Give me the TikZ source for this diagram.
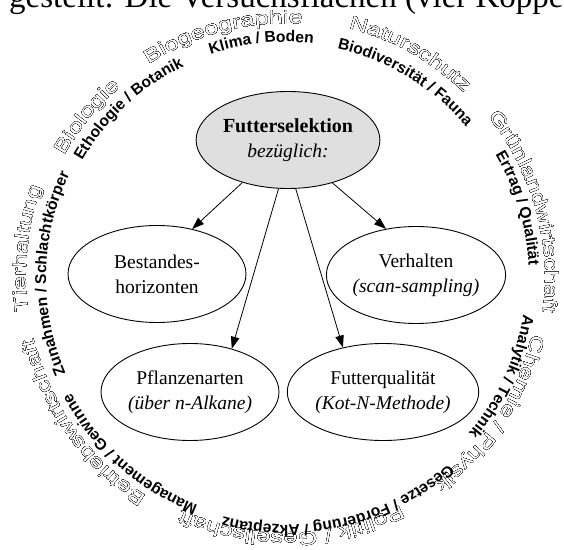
\documentclass[tikz,border=0pt]{standalone}
\usepackage{fontspec}
\setmainfont{Liberation Serif}
\newfontfamily\outerfam[FakeStretch=1.32]{Liberation Sans}
\newfontfamily\innerfam{Liberation Sans}
\usetikzlibrary{shapes.geometric,arrows.meta,decorations.text,calc}
\newcommand\outerfnt{\outerfam\fontsize{19}{23}\selectfont}
\newcommand\innerfnt{\innerfam\bfseries\fontsize{15.6}{18}\selectfont}
% text on a clockwise arc around (C): #1 font, #2 radius, #3 middle angle, #4 text, #5 colour
\newcommand\ringtext[5]{%
  \pgfmathsetmacro\sa{#3+50}\pgfmathsetmacro\ea{#3-50}%
  \path[decorate,decoration={text along path,text={|#1|#4},text align=center,text color=#5}]
    ($(C)+(\sa:#2pt)$) arc[start angle=\sa,end angle=\ea,radius=#2pt];}
% outlined (hollow) text on the outer ring
\newcommand\outlinetext[3]{%
  \foreach \ang in {0,22.5,...,337.5}{%
    \begin{scope}[shift={(\ang:0.72)}]\ringtext{\outerfnt}{#1}{#2}{#3}{black}\end{scope}}%
  \ringtext{\outerfnt}{#1}{#2}{#3}{white}}
\begin{document}
\begin{tikzpicture}[x=1pt,y=1pt,
  ell/.style={ellipse,draw,line width=0.9pt,minimum width=178pt,minimum height=97pt,
    inner sep=0pt,align=center,font=\fontsize{19.5}{25}\selectfont},
  arr/.style={line width=0.8pt,-{Triangle[length=12pt,width=8.5pt]}}]
\useasboundingbox (0,0) rectangle (564,549);
\clip (0,0) rectangle (564,549);
\coordinate (C) at (286,271);
\node[anchor=base west,inner sep=0pt,font=\fontsize{33}{40}\selectfont] (hdr) at (9,541)
  {gestellt: Die Versuchsflächen (vier Koppe};
% ellipses
\node[ell,fill=gray!25] (F) at (288,409)
  {{\fontsize{20}{25}\selectfont\bfseries Futterselektion}\\\textit{bezüglich:}};
\node[ell] (B) at (157,275) {Bestandes-\\horizonten};
\node[ell] (V) at (416,274) {Verhalten\\\textit{(scan-sampling)}};
\node[ell] (P) at (190,157) {Pflanzenarten\\\textit{(über n-Alkane)}};
\node[ell] (Q) at (383,157) {Futterqualität\\\textit{(Kot-N-Methode)}};
% arrows
\draw[arr] (F.223) -- (B.52);
\draw[arr] (F.316) -- (V.123);
\draw[arr] (F.259) -- (P.46);
\draw[arr] (F.279) -- (Q.132);
% outer ring
\outlinetext{254}{104.5}{Biogeographie}
\outlinetext{257}{61}{Naturschutz}
\outlinetext{259}{15.5}{Grünlandwirtschaft}
\outlinetext{253}{-33.5}{Chemie / Physik}
\outlinetext{255}{-88.7}{Politik / Gesellschaft}
\outlinetext{259}{215.5}{Betriebswirtschaft}
\outlinetext{260}{173.5}{Tierhaltung}
\outlinetext{253}{141}{Biologie}
% inner ring
\ringtext{\innerfnt}{236}{96}{Klima / Boden}{black}
\ringtext{\innerfnt}{235}{58.7}{Biodiversität / Fauna}{black}
\ringtext{\innerfnt}{243}{16.7}{Ertrag / Qualität}{black}
\ringtext{\innerfnt}{240}{-24.6}{Analytik / Technik}{black}
\ringtext{\innerfnt}{247}{-76.8}{Gesetze / Förderung / Akzeptanz}{black}
\ringtext{\innerfnt}{244}{228.5}{Management / Gewinne}{black}
\ringtext{\innerfnt}{240}{178.9}{Zunahmen / Schlachtkörper}{black}
\ringtext{\innerfnt}{235}{132.9}{Ethologie / Botanik}{black}
\end{tikzpicture}
\end{document}
